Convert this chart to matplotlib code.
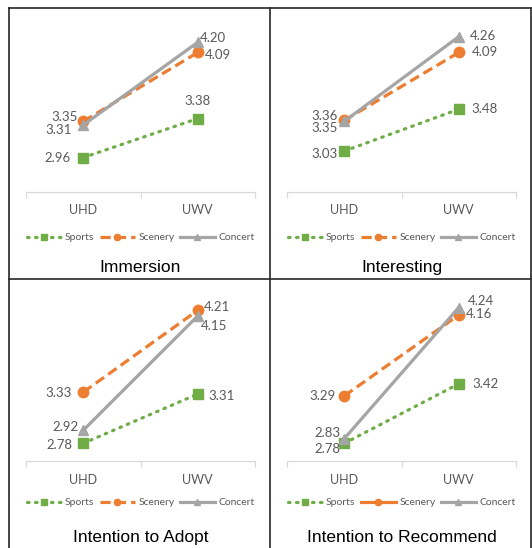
import matplotlib
matplotlib.use('Agg')
import matplotlib.pyplot as plt
from matplotlib.lines import Line2D

categories = ['UHD', 'UWV']
titles = ['Immersion', 'Interesting', 'Intention to Adopt', 'Intention to Recommend']
series_names = ['Sports', 'Scenery', 'Concert']
sports = [[2.96, 3.38], [3.03, 3.48], [2.78, 3.31], [2.78, 3.42]]
scenery = [[3.35, 4.09], [3.36, 4.09], [3.33, 4.21], [3.29, 4.16]]
concert = [[3.31, 4.20], [3.35, 4.26], [2.92, 4.15], [2.83, 4.24]]

W, H = 532, 548
fig = plt.figure(figsize=(W / 100, H / 100), dpi=100)

# series styles (Excel default palette)
styles = [
    dict(color='#70AD47', ls=(0, (0.5, 2.0)), marker='s', ms=7, dash_capstyle='round'),
    dict(color='#ED7D31', ls=(0, (3.2, 1.6)), marker='o', ms=7.5),
    dict(color='#A5A5A5', ls='-', marker='^', ms=7.5),
]

# axes boxes in pixels: left, axis-line y
boxes = [(26, 192), (287, 192), (26, 461), (287, 461)]
ax_w, ax_h = 229, 173

# label offsets in pixels (dx, dy, ha) per panel / series / category
offsets = [
    [[(-13, 0, 'right'), (0, 18, 'center')],
     [(-5, 4, 'right'), (7, -3, 'left')],
     [(-12, -5, 'right'), (2, 4, 'left')]],
    [[(-7, -3, 'right'), (13, 0, 'left')],
     [(-6, 4, 'right'), (13, 0, 'left')],
     [(-6, -7, 'right'), (11, 1, 'left')]],
    [[(-11, -2, 'right'), (11, -2, 'left')],
     [(-11, -1, 'right'), (6, 3, 'left')],
     [(-5, 3, 'right'), (3, -10, 'left')]],
    [[(-4, -6, 'right'), (14, 0, 'left')],
     [(-9, 0, 'right'), (7, 1, 'left')],
     [(-4, 6, 'right'), (9, 7, 'left')]],
]

label_font = 'Lato'
for i in range(4):
    x0, yline = boxes[i]
    ax = fig.add_axes([x0 / W, (H - yline) / H, ax_w / W, ax_h / H])
    data = [sports[i], scenery[i], concert[i]]
    for j in range(3):
        st = styles[j]
        ax.plot(range(len(categories)), data[j], color=st['color'], linestyle=st['ls'],
                lw=2.3, marker=st['marker'], markersize=st['ms'],
                dash_capstyle=st.get('dash_capstyle', 'butt'), label=series_names[j])
        for k in range(len(categories)):
            dx, dy, ha = offsets[i][j][k]
            ax.annotate('%.2f' % data[j][k], (k, data[j][k]), xytext=(dx, dy),
                        textcoords='offset pixels', ha=ha, va='center',
                        fontsize=9.5, color='#595959', family=label_font)
    ax.set_xlim(-0.5, 1.5)
    ax.set_ylim(2.59, 4.45)
    ax.set_yticks([])
    for s in ['left', 'top', 'right']:
        ax.spines[s].set_visible(False)
    ax.spines['bottom'].set_color('#D9D9D9')
    ax.spines['bottom'].set_linewidth(0.9)
    ax.set_xticks([0, 1])
    ax.set_xticklabels(categories, family=label_font, fontsize=9, color='#595959')
    ax.tick_params(axis='x', which='major', length=0, pad=9)
    ax.set_xticks([-0.5, 0.5, 1.5], minor=True)
    ax.tick_params(axis='x', which='minor', length=4, color='#D9D9D9', width=0.9)
    leg = ax.legend(loc='center', bbox_to_anchor=(0.5, -0.265 if i < 2 else -0.24), ncol=3,
                    frameon=False, handlelength=3.4, columnspacing=0.5, markerscale=0.6,
                    handletextpad=0.3, prop={'family': label_font, 'size': 7.5})
    for t in leg.get_texts():
        t.set_color('#595959')
    if i == 3:
        leg.get_lines()[1].set_linestyle('-')
    ax.text(0.5, -0.435 if i < 2 else -0.44, titles[i], transform=ax.transAxes,
            ha='center', va='center', fontsize=12.5,
            family=['Liberation Sans', 'DejaVu Sans'], color='#000000')

# panel frame lines (pixels)
frame = [((9, 531), (8, 8)), ((9, 9), (8, 548)), ((531, 531), (8, 548)),
         ((270, 270), (8, 548)), ((9, 531), (279, 279))]
for xs, ys in frame:
    fig.add_artist(Line2D([x / W for x in xs], [1 - y / H for y in ys],
                          transform=fig.transFigure, color='#262626', lw=1.2))

fig.savefig('out.png', dpi=100)
